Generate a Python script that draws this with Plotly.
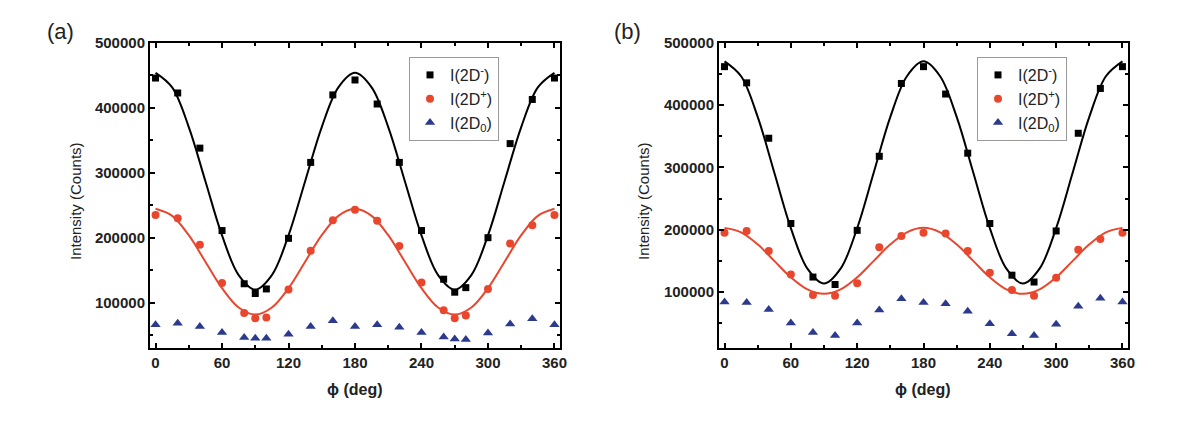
import plotly.graph_objects as go

# measured angles (deg)
phi_a = [0, 20, 40, 60, 80, 90, 100, 120, 140, 160, 180, 200, 220, 240, 260, 270, 280, 300, 320, 340, 360]
phi_b = [0, 20, 40, 60, 80, 100, 120, 140, 160, 180, 200, 220, 240, 260, 280, 300, 320, 340, 360]

# panel (a) data
a_minus = [446000, 423000, 338000, 211000, 129000, 114000, 121000, 199000, 316000, 420000, 443000,
           406000, 316000, 211000, 136000, 116000, 123000, 200000, 345000, 413000, 446000]
a_plus = [235000, 230000, 189000, 130000, 84000, 76000, 77000, 120000, 180000, 227000, 243000,
          226000, 187000, 131000, 88000, 76000, 80000, 121000, 191000, 219000, 235000]
a_zero = [66000, 68000, 63000, 54000, 46000, 45000, 45000, 51000, 63000, 72000, 63000,
          66000, 62000, 54000, 47000, 44000, 43000, 53000, 67000, 75000, 66000]

# panel (b) data
b_minus = [462000, 436000, 347000, 210000, 124000, 112000, 199000, 318000, 435000, 462000,
           418000, 323000, 210000, 127000, 116000, 198000, 355000, 427000, 462000]
b_plus = [195000, 198000, 166000, 128000, 95000, 94000, 114000, 172000, 190000, 195000,
          194000, 166000, 131000, 103000, 94000, 123000, 168000, 185000, 195000]
b_zero = [84000, 83000, 72000, 50000, 35000, 30000, 50000, 71000, 89000, 83000,
          81000, 69000, 49000, 33000, 30000, 48000, 77000, 90000, 84000]

# fitted curves every 15 deg
phi_fit = list(range(0, 361, 15))
a_minus_fit = [454000, 431600, 370500, 287000, 203500, 142400, 120000, 142400, 203500, 287000, 370500, 431600, 454000,
               431600, 370500, 287000, 203500, 142400, 120000, 142400, 203500, 287000, 370500, 431600, 454000]
a_plus_fit = [244500, 233600, 203800, 163000, 122200, 92400, 81500, 92400, 122200, 163000, 203800, 233600, 244500,
              233600, 203800, 163000, 122200, 92400, 81500, 92400, 122200, 163000, 203800, 233600, 244500]
b_minus_fit = [470500, 446600, 381300, 292000, 202700, 137400, 113500, 137400, 202700, 292000, 381300, 446600, 470500,
               446600, 381300, 292000, 202700, 137400, 113500, 137400, 202700, 292000, 381300, 446600, 470500]
b_plus_fit = [203000, 195900, 176500, 150000, 123500, 104100, 97000, 104100, 123500, 150000, 176500, 195900, 203000,
              195900, 176500, 150000, 123500, 104100, 97000, 104100, 123500, 150000, 176500, 195900, 203000]

names = ["I(2D<sup>-</sup>)", "I(2D<sup>+</sup>)", "I(2D<sub>0</sub>)"]
black, red, blue = "#000000", "#E8472E", "#2B3A8C"
FONT = "Liberation Sans, Arial, sans-serif"

W, H = 1200, 424
DX, DY = 8, 8  # page body margin offset


def px_x(p):
    return (p - DX) / W


def px_y(p):
    return 1 - (p - DY) / H


fig = go.Figure()

panels = [
    ("x", "y", "legend", phi_a, a_minus, a_plus, a_zero, a_minus_fit, a_plus_fit),
    ("x2", "y2", "legend2", phi_b, b_minus, b_plus, b_zero, b_minus_fit, b_plus_fit),
]
for xa, ya, leg, phi, mi, pl, ze, mi_fit, pl_fit in panels:
    fig.add_trace(go.Scatter(x=phi_fit, y=mi_fit, mode="lines", line=dict(color=black, width=2, shape="spline"),
                             xaxis=xa, yaxis=ya, showlegend=False))
    fig.add_trace(go.Scatter(x=phi_fit, y=pl_fit, mode="lines", line=dict(color=red, width=2, shape="spline"),
                             xaxis=xa, yaxis=ya, showlegend=False))
    fig.add_trace(go.Scatter(x=phi, y=mi, mode="markers", name=names[0], legend=leg,
                             marker=dict(symbol="square", size=7, color=black), xaxis=xa, yaxis=ya))
    fig.add_trace(go.Scatter(x=phi, y=pl, mode="markers", name=names[1], legend=leg,
                             marker=dict(symbol="circle", size=8, color=red), xaxis=xa, yaxis=ya))
    fig.add_trace(go.Scatter(x=phi, y=ze, mode="markers", name=names[2], legend=leg,
                             marker=dict(symbol="triangle-up", size=9, color=blue), xaxis=xa, yaxis=ya))

axis_common = dict(showline=True, linecolor="black", linewidth=2, mirror="allticks", ticks="inside",
                   ticklen=5, tickwidth=1.5, tickcolor="black", showgrid=False, zeroline=False, automargin=False,
                   tickfont=dict(family=FONT, size=15, color="#222", weight="bold"))
x_common = dict(axis_common, range=[-5, 365], tickvals=[0, 60, 120, 180, 240, 300, 360],
                minor=dict(ticks="inside", ticklen=3, tickwidth=1.5, tickcolor="black", dtick=30, tick0=0))
y_minor = dict(ticks="inside", ticklen=3, tickwidth=1.5, tickcolor="black", dtick=50000, tick0=0)

legend_common = dict(bordercolor="#999999", borderwidth=1, bgcolor="white", xanchor="left", yanchor="top",
                     font=dict(family=FONT, size=16, color="#222"), itemwidth=30, tracegroupgap=0)

fig.update_layout(
    width=W, height=H,
    margin=dict(l=0, r=0, t=0, b=0),
    paper_bgcolor="white", plot_bgcolor="white",
    font=dict(family=FONT),
    xaxis=dict(x_common, domain=[px_x(150), px_x(560)], anchor="y"),
    yaxis=dict(axis_common, domain=[px_y(348), px_y(43)], anchor="x", range=[30000, 500000],
               tickvals=[100000, 200000, 300000, 400000, 500000], tickformat="d", minor=y_minor),
    xaxis2=dict(x_common, domain=[px_x(719), px_x(1128)], anchor="y2"),
    yaxis2=dict(axis_common, domain=[px_y(348), px_y(43)], anchor="x2", range=[10000, 500000],
                tickvals=[100000, 200000, 300000, 400000, 500000], tickformat="d", minor=y_minor),
    legend=dict(legend_common, x=px_x(409), y=px_y(57)),
    legend2=dict(legend_common, x=px_x(977), y=px_y(57)),
    showlegend=True,
)

annots = [
    dict(text="(a)", x=px_x(45), y=px_y(32), xanchor="left", yanchor="middle", font=dict(size=22, color="#222")),
    dict(text="(b)", x=px_x(612), y=px_y(32), xanchor="left", yanchor="middle", font=dict(size=22, color="#222")),
    dict(text="Intensity (Counts)", x=px_x(75), y=px_y(201), textangle=-90, xanchor="center", yanchor="middle",
         font=dict(size=15, color="#222")),
    dict(text="Intensity (Counts)", x=px_x(643), y=px_y(201), textangle=-90, xanchor="center", yanchor="middle",
         font=dict(size=15, color="#222")),
    dict(text="ϕ (deg)", x=px_x(355), y=px_y(389), xanchor="center", yanchor="middle",
         font=dict(size=16, color="#222", weight="bold")),
    dict(text="ϕ (deg)", x=px_x(923), y=px_y(389), xanchor="center", yanchor="middle",
         font=dict(size=16, color="#222", weight="bold")),
]
for a in annots:
    a["font"]["family"] = FONT
    fig.add_annotation(xref="paper", yref="paper", showarrow=False, **a)

fig.write_html("out.html")
